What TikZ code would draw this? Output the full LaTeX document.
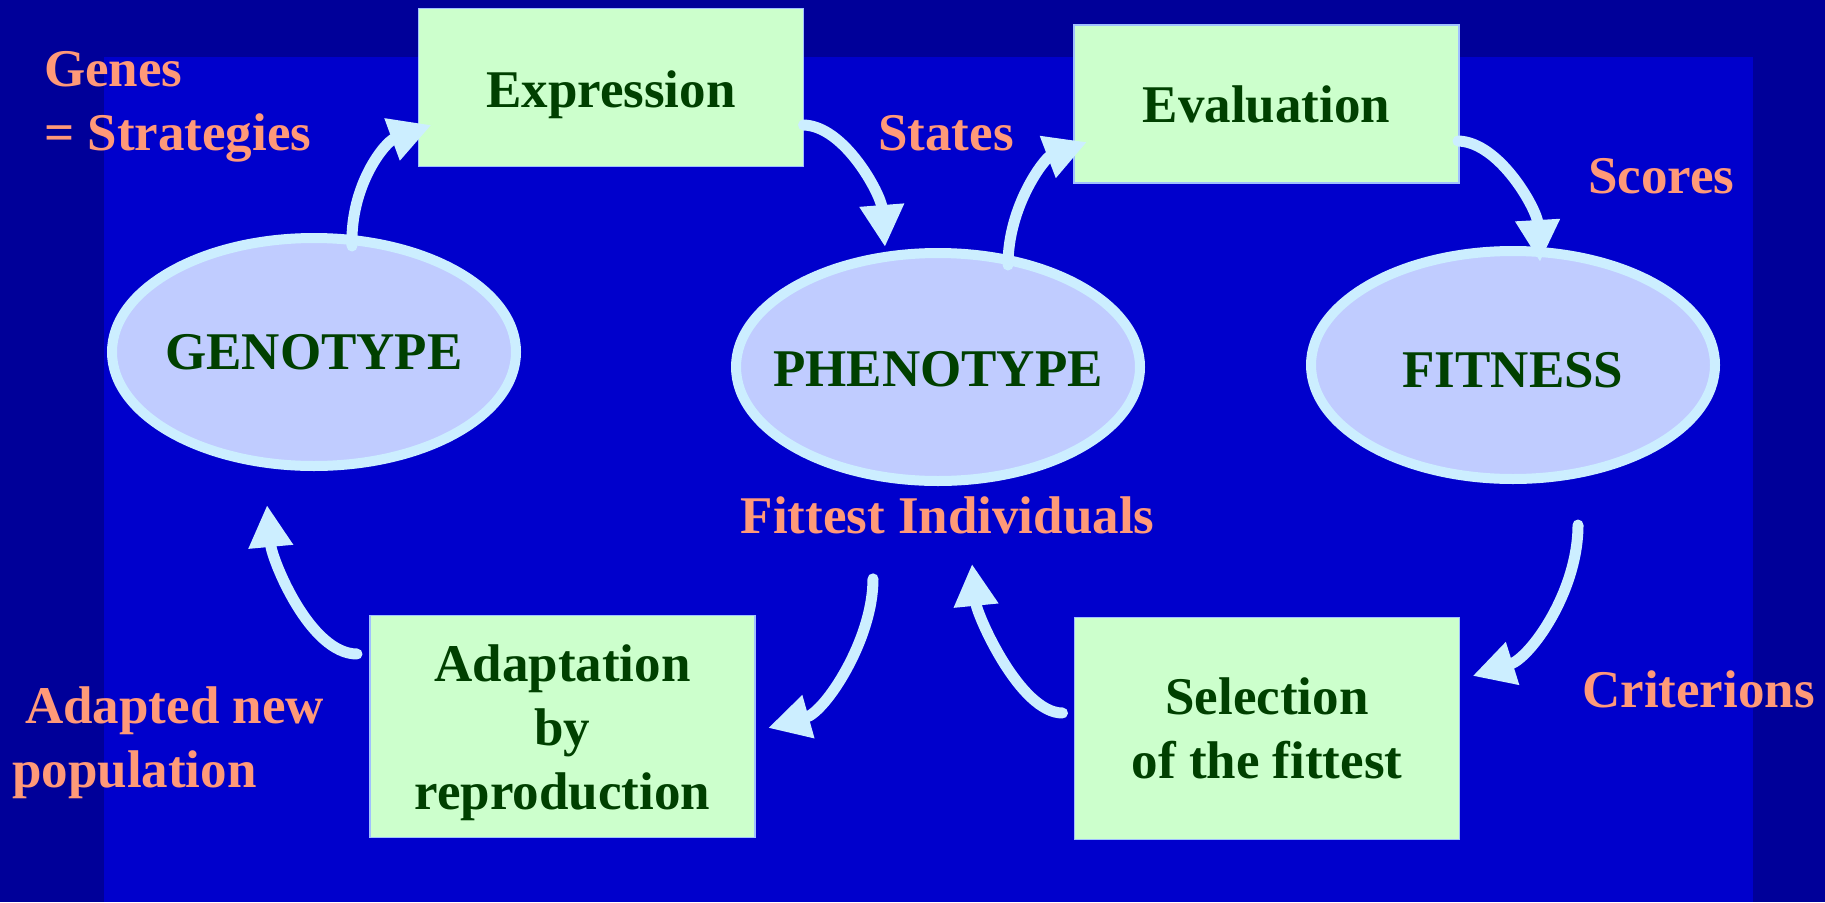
\documentclass[tikz,border=0pt]{standalone}
\usepackage{fontspec}
\setmainfont{Liberation Serif}
\usetikzlibrary{shapes.geometric,arrows.meta}

\definecolor{outerbg}{RGB}{0,0,153}
\definecolor{innerbg}{RGB}{0,0,204}
\definecolor{salmon}{RGB}{255,153,120}
\definecolor{darkgreen}{RGB}{0,64,0}
\definecolor{boxfill}{RGB}{204,255,204}
\definecolor{boxline}{RGB}{160,192,255}
\definecolor{ellfill}{RGB}{192,204,255}
\definecolor{paleblue}{RGB}{204,238,255}

% lower a text by #1 without changing the box it occupies
\newcommand{\dropby}[2]{\raisebox{-#1}[\height][\depth]{#2}}

\begin{document}
\begin{tikzpicture}[x=1pt,y=-1pt,
  txt/.style={font=\fontsize{53}{64}\selectfont\bfseries},
  stepbox/.style={txt, rectangle, draw=boxline, line width=1.5pt, fill=boxfill,
    text=darkgreen, align=center, inner sep=0pt, outer sep=0pt,
    minimum width=385pt},
  phase/.style={txt, ellipse, draw=paleblue, line width=10pt, fill=ellfill,
    text=darkgreen, inner sep=0pt, minimum width=404pt, minimum height=228pt},
  lbl/.style={txt, text=salmon, inner sep=0pt, align=left},
  flow/.style={draw=paleblue, line width=11pt, line cap=round,
    -{Triangle[length=42pt,width=42pt]}}]

% background panels
\useasboundingbox (0,0) rectangle (1825,902);
\fill[outerbg] (0,0) rectangle (1825,902);
\fill[innerbg] (104,57) rectangle (1753,902);

% the three phases (text kept zero-width so the ellipse size is fixed)
\node[phase] (geno)  at (314,352) {\makebox[0pt]{GENOTYPE}};
\node[phase] (pheno) at (938,367) {\makebox[0pt]{\dropby{2pt}{PHENOTYPE}}};
\node[phase] (fit)   at (1513,365) {\makebox[0pt]{\dropby{5pt}{FITNESS}}};

% the four processes
\node[stepbox, minimum height=158pt] (expr)  at (611,87.5)  {\dropby{7pt}{Expression}};
\node[stepbox, minimum height=158pt] (eval)  at (1266.5,104) {Evaluation};
\node[stepbox, minimum height=222pt] (adapt) at (562.5,726.5) {\rule{0pt}{50pt}Adaptation\\by\\reproduction};
\node[stepbox, minimum height=222pt] (sel)   at (1267,728.5) {Selection\\of the fittest};

% annotations (base anchor = baseline of the last line)
\node[lbl, anchor=base west] (genes)   at (44,150)   {Genes\\= Strategies};
\node[lbl, anchor=base west] (states)  at (878,150)  {States};
\node[lbl, anchor=base west] (scores)  at (1588,193) {Scores};
\node[lbl, anchor=base west] (crit)    at (1582,707) {Criterions};
\node[lbl, anchor=base west] (newpop)  at (12,787)   {\hspace*{13pt}Adapted new\\population};
\node[lbl, anchor=base]      (fittest) at (947.5,533) {Fittest Individuals};

% cycle connectors
\draw[flow] ([shift={(38,-106)}]geno.center) .. controls (350,185) and (385,142) .. ([shift={(13,37.5)}]expr.west);
\draw[flow] ([shift={(0,37.5)}]expr.east) .. controls (845,126) and (881,195) .. ([shift={(-53,-120)}]pheno.center);
\draw[flow] ([shift={(70,-102)}]pheno.center) .. controls (1008,205) and (1045,158) .. ([shift={(13,38)}]eval.west);
\draw[flow] ([shift={(-1,37)}]eval.east) .. controls (1500,142) and (1537,210) .. ([shift={(27,-103)}]fit.center);
\draw[flow] ([shift={(65,160)}]fit.center) .. controls (1578,592) and (1530,658) .. ([shift={(13,-52.5)}]sel.east);
\draw[flow] ([shift={(-12,-15.5)}]sel.west) .. controls (1020,713) and (977,615) .. ([shift={(24.5,30)}]fittest.south);
\draw[flow] ([shift={(-74.5,45)}]fittest.south) .. controls (873,640) and (825,712) .. ([shift={(13,1.5)}]adapt.east);
\draw[flow] ([shift={(-13,-72.5)}]adapt.west) .. controls (310,654) and (272,560) .. ([shift={(-47,153)}]geno.center);

\end{tikzpicture}
\end{document}
